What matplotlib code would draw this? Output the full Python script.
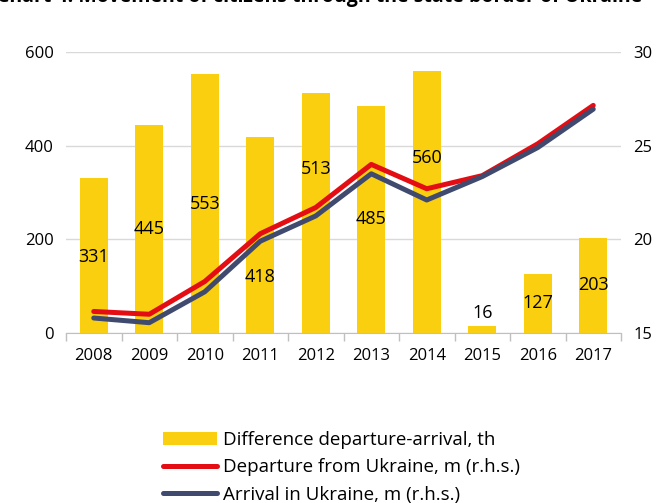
import matplotlib
matplotlib.use("Agg")
import matplotlib.pyplot as plt
import numpy as np
from matplotlib.ticker import FixedLocator

years = ["2008", "2009", "2010", "2011", "2012", "2013", "2014", "2015", "2016", "2017"]
difference = [331, 445, 553, 418, 513, 485, 560, 16, 127, 203]
departure = [16.15, 16.0, 17.75, 20.3, 21.7, 24.0, 22.7, 23.4, 25.1, 27.15]
arrival = [15.8, 15.55, 17.2, 19.9, 21.25, 23.5, 22.1, 23.35, 24.9, 26.95]

# label placement (data units, left axis) - chosen to avoid the lines
label_y = [162, 445 / 2, 553 / 2, 120, 350, 485 / 2, 374, 43, 127 / 2, 203 / 2]

plt.rcParams['font.family'] = ['Open Sans', 'DejaVu Sans']
FS = 12
LFS = 13.5

fig = plt.figure(figsize=(6.67, 5.03), dpi=100)
ax = fig.add_axes([66 / 667, 1 - 333 / 503, 555 / 667, 281 / 503])
ax2 = ax.twinx()

x = np.arange(len(years))
yellow = "#F9CF10"
red = "#E30D13"
blue = "#3F4A6E"

bars = ax.bar(x, difference, width=0.5, color=yellow, zorder=2,
              label="Difference departure-arrival, th")
for xi, v, ly in zip(x, difference, label_y):
    ax.text(xi, ly, str(v), ha="center", va="center", fontsize=13, color="black", zorder=5)

l1, = ax2.plot(x, departure, color=red, lw=3.6, solid_capstyle="round",
               label="Departure from Ukraine, m (r.h.s.)", zorder=3)
l2, = ax2.plot(x, arrival, color=blue, lw=3.6, solid_capstyle="round",
               label="Arrival in Ukraine, m (r.h.s.)", zorder=4)

ax.set_xlim(-0.5, len(years) - 0.5)
ax.set_ylim(0, 600)
ax2.set_ylim(15, 30)
ax.set_yticks([0, 200, 400, 600])
ax2.set_yticks([15, 20, 25, 30])
ax.yaxis.grid(True, color="#D9D9D9", lw=1)
ax.set_axisbelow(True)

ax.set_xticks(x)
ax.set_xticklabels(years)
ax.xaxis.set_minor_locator(FixedLocator(np.arange(-0.5, len(years), 1.0)))
ax.tick_params(axis="x", which="major", length=0, pad=11, labelsize=FS)
ax.tick_params(axis="x", which="minor", length=6, color="#BFBFBF", width=1)
ax.tick_params(axis="y", length=0, labelsize=FS, pad=9)
ax2.tick_params(axis="y", length=0, labelsize=FS, pad=9)

for a in (ax, ax2):
    for s in ("top", "left", "right"):
        a.spines[s].set_visible(False)
    a.spines["bottom"].set_color("#BFBFBF")
ax2.spines["bottom"].set_visible(False)

fig.legend(handles=[bars, l1, l2], loc="upper left",
           bbox_to_anchor=(163 / 667, 1 - 431 / 503), frameon=False,
           fontsize=LFS, handlelength=2.9, handletextpad=0.3, labelspacing=0.5,
           borderaxespad=0, borderpad=0)

fig.text(-0.005, 1.0 + 0.026, "Chart 4. Movement of citizens through the state border of Ukraine",
         fontsize=14, fontweight="bold", ha="left", va="top")

fig.savefig("out.png", dpi=100)
